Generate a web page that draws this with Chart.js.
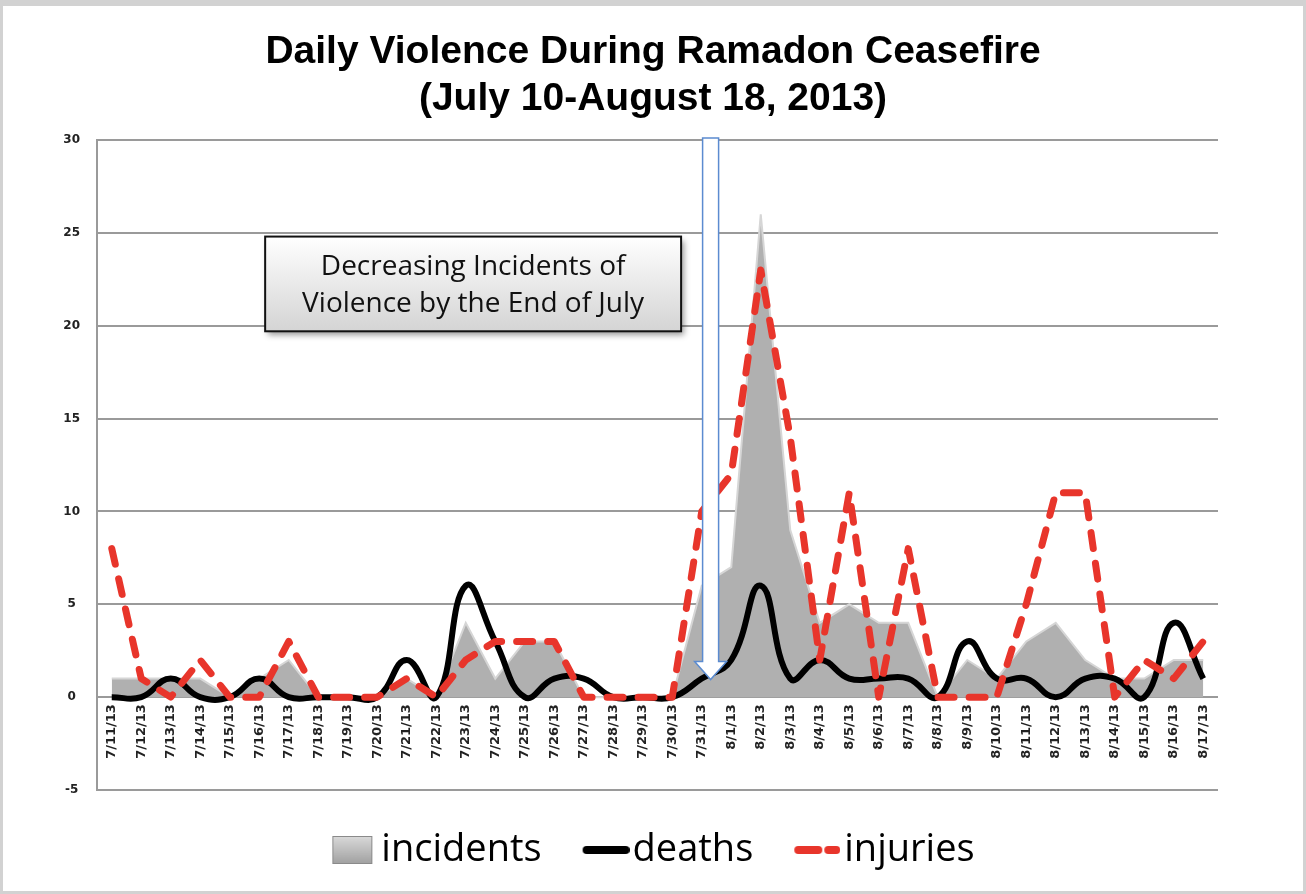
<!DOCTYPE html>
<html>
<head>
<meta charset="utf-8">
<title>Daily Violence During Ramadon Ceasefire</title>
<script src="https://cdn.jsdelivr.net/npm/chart.js@4.4.1/dist/chart.umd.min.js"></script>
<style>
  html, body { margin: 0; padding: 0; background: #fff; }
  #contenedor { position: relative; width: 1306px; height: 894px; }
  #marco {
    position: absolute; left: 0; top: 0;
    width: 1300px; height: 885px;
    border: 3px solid #d2d2d2; border-top-width: 6px;
    pointer-events: none;
  }
</style>
</head>
<body>
<div id="contenedor">
  <canvas id="violenciaChart" width="1306" height="894"></canvas>
  <div id="marco"></div>
</div>
<script>
// Datos diarios (7/11/13 - 8/17/13)
const fechas = [
  "7/11/13", "7/12/13", "7/13/13", "7/14/13", "7/15/13", "7/16/13", "7/17/13",
  "7/18/13", "7/19/13", "7/20/13", "7/21/13", "7/22/13", "7/23/13", "7/24/13",
  "7/25/13", "7/26/13", "7/27/13", "7/28/13", "7/29/13", "7/30/13", "7/31/13",
  "8/1/13", "8/2/13", "8/3/13", "8/4/13", "8/5/13", "8/6/13", "8/7/13",
  "8/8/13", "8/9/13", "8/10/13", "8/11/13", "8/12/13", "8/13/13", "8/14/13",
  "8/15/13", "8/16/13", "8/17/13",
];
const incidentes = [
  1, 1, 1, 1, 0, 1, 2, 0, 0, 0,
  1, 0, 4, 1, 3, 3, 0, 0, 0, 0,
  6,
  7, 26, 9, 4, 5, 4, 4, 0,
  2, 1, 3, 4, 2, 1, 1, 2, 2,
];
const muertes = [
  0, 0, 1, 0, 0, 1, 0, 0, 0, 0,
  2, 0, 6, 3, 0, 1, 1, 0, 0, 0,
  1,
  2, 6, 1, 2, 1, 1, 1, 0,
  3, 1, 1, 0, 1, 1, 0, 4, 1,
];
const heridos = [
  8, 1, 0, 2, 0, 0, 3, 0, 0, 0,
  1, 0, 2, 3, 3, 3, 0, 0, 0, 0,
  10,
  12, 23, 14, 2, 11, 0, 8, 0,
  0, 0, 5, 11, 11, 0, 2, 1, 3,
];
const series = ["incidents", "deaths", "injuries"];
const ejeYMin = -5;
const ejeYMax = 30;
const ejeYPaso = 5;

const titulo = ["Daily Violence During Ramadon Ceasefire", "(July 10-August 18, 2013)"];
const textoCaja = ["Decreasing Incidents of", "Violence by the End of July"];
const fechaFlecha = "7/31/13";

const grisGrilla = "#9a9a9a";
const rojo = "#e8352b";
const anchoCajaLeyenda = 31;

// Marcadores de la leyenda dibujados en canvas pequeños
function crearMarcador(ancho, alto, dibujar) {
  const c = document.createElement("canvas");
  c.width = 2 * (ancho - anchoCajaLeyenda / 2);
  c.height = alto;
  const ctx = c.getContext("2d");
  ctx.translate(c.width - ancho, 0);
  dibujar(ctx);
  return c;
}

const marcadores = [
  crearMarcador(42, 30, (ctx) => {
    const g = ctx.createLinearGradient(0, 0, 0, 30);
    g.addColorStop(0, "#dcdcdc");
    g.addColorStop(1, "#9e9e9e");
    ctx.fillStyle = g;
    ctx.fillRect(1, 1, 40, 28);
    ctx.strokeStyle = "#8a8a8a";
    ctx.lineWidth = 1;
    ctx.strokeRect(1.5, 1.5, 39, 27);
  }),
  crearMarcador(47, 12, (ctx) => {
    ctx.strokeStyle = "#000";
    ctx.lineWidth = 8;
    ctx.lineCap = "round";
    ctx.beginPath();
    ctx.moveTo(4, 6);
    ctx.lineTo(43, 6);
    ctx.stroke();
  }),
  crearMarcador(46, 12, (ctx) => {
    ctx.strokeStyle = rojo;
    ctx.lineWidth = 8;
    ctx.lineCap = "round";
    ctx.beginPath();
    ctx.moveTo(4, 6);
    ctx.lineTo(24, 6);
    ctx.moveTo(34, 6);
    ctx.lineTo(42, 6);
    ctx.stroke();
  }),
];

// Caja de texto y flecha sobre la gráfica
const anotaciones = {
  id: "anotaciones",
  afterDatasetsDraw(chart) {
    const { ctx, chartArea } = chart;
    const x = chart.scales.x;
    const y = chart.scales.y;

    // Caja "Decreasing Incidents..."
    const izq = x.getPixelForValue(5.2);
    const der = x.getPixelForValue(19.3);
    const arriba = y.getPixelForValue(24.8);
    const abajo = y.getPixelForValue(19.7);
    ctx.save();
    const g = ctx.createLinearGradient(0, arriba, 0, abajo);
    g.addColorStop(0, "#ffffff");
    g.addColorStop(1, "#d4d4d4");
    ctx.shadowColor = "rgba(0,0,0,0.4)";
    ctx.shadowBlur = 6;
    ctx.shadowOffsetX = 3;
    ctx.shadowOffsetY = 4;
    ctx.fillStyle = g;
    ctx.fillRect(izq, arriba, der - izq, abajo - arriba);
    ctx.shadowColor = "transparent";
    ctx.strokeStyle = "#111";
    ctx.lineWidth = 2;
    ctx.strokeRect(izq, arriba, der - izq, abajo - arriba);
    ctx.fillStyle = "#111";
    ctx.font = "28px 'Open Sans'";
    ctx.textAlign = "center";
    ctx.textBaseline = "middle";
    const centro = (arriba + abajo) / 2;
    ctx.fillText(textoCaja[0], (izq + der) / 2, centro - 17);
    ctx.fillText(textoCaja[1], (izq + der) / 2, centro + 20);
    ctx.restore();

    // Flecha hacia 7/31
    const idx = fechas.indexOf(fechaFlecha);
    const cx = x.getPixelForValue(idx + 0.3);
    const tope = chartArea.top - 2;
    const punta = y.getPixelForValue(0.95);
    ctx.save();
    ctx.beginPath();
    ctx.moveTo(cx - 8, tope);
    ctx.lineTo(cx + 8, tope);
    ctx.lineTo(cx + 8, punta - 18);
    ctx.lineTo(cx + 16, punta - 18);
    ctx.lineTo(cx, punta);
    ctx.lineTo(cx - 16, punta - 18);
    ctx.lineTo(cx - 8, punta - 18);
    ctx.closePath();
    ctx.fillStyle = "#ffffff";
    ctx.fill();
    ctx.strokeStyle = "#5b8bd0";
    ctx.lineWidth = 1.5;
    ctx.stroke();
    ctx.restore();
  },
};

const ctxViolencia = document.getElementById("violenciaChart").getContext("2d");
const violenciaChart = new Chart(ctxViolencia, {
  type: "line",
  data: {
    labels: fechas,
    datasets: [
      {
        label: series[0],
        data: incidentes,
        fill: "origin",
        backgroundColor: "#b0b0b0",
        borderColor: "#d6d6d6",
        borderWidth: 2,
        tension: 0,
        pointRadius: 0,
        order: 3,
      },
      {
        label: series[1],
        data: muertes,
        fill: false,
        borderColor: "#000000",
        backgroundColor: "#000000",
        borderWidth: 6,
        tension: 0.45,
        pointRadius: 0,
        order: 2,
      },
      {
        label: series[2],
        data: heridos,
        fill: false,
        borderColor: rojo,
        backgroundColor: rojo,
        borderWidth: 7,
        borderDash: [16, 15],
        borderCapStyle: "round",
        borderJoinStyle: "round",
        tension: 0,
        pointRadius: 0,
        order: 1,
      },
    ],
  },
  options: {
    responsive: false,
    animation: false,
    events: [],
    layout: { padding: { left: 0, right: 0, top: 0, bottom: 15 } },
    scales: {
      x: {
        type: "category",
        position: { y: 0 },
        offset: true,
        grid: { display: false, drawTicks: false },
        border: { display: false },
        ticks: {
          autoSkip: false,
          maxRotation: 90,
          minRotation: 90,
          padding: 7,
          color: "#222",
          font: { family: "'DejaVu Sans'", size: 13, weight: "bold" },
        },
      },
      y: {
        min: ejeYMin,
        max: ejeYMax,
        ticks: {
          stepSize: ejeYPaso,
          crossAlign: "center",
          padding: 17,
          color: "#222",
          font: { family: "'DejaVu Sans'", size: 12, weight: "bold" },
        },
        grid: { color: grisGrilla, lineWidth: 2, drawTicks: false },
        border: { display: true, color: grisGrilla, width: 2 },
        afterFit: (escala) => {
          escala.width = 97;
        },
      },
      yDerecha: {
        type: "linear",
        position: "right",
        grid: { display: false },
        border: { display: false },
        ticks: { display: false },
        afterFit: (escala) => {
          escala.width = 88;
        },
      },
    },
    plugins: {
      tooltip: { enabled: false },
      title: {
        display: true,
        text: titulo,
        color: "#000",
        font: {
          family: "'Liberation Sans Narrow', 'Liberation Sans', Arial",
          size: 39,
          weight: "bold",
          lineHeight: "47px",
        },
        padding: { top: 29, bottom: 17 },
      },
      legend: {
        position: "bottom",
        labels: {
          usePointStyle: true,
          pointStyleWidth: anchoCajaLeyenda,
          padding: 41,
          color: "#000",
          font: { family: "'Open Sans'", size: 38 },
          sort: (a, b) => a.datasetIndex - b.datasetIndex,
          generateLabels: (chart) => {
            const base = Chart.defaults.plugins.legend.labels.generateLabels(chart);
            return base.map((item) => {
              item.pointStyle = marcadores[item.datasetIndex];
              return item;
            });
          },
        },
      },
    },
  },
  plugins: [anotaciones],
});
</script>
</body>
</html>
